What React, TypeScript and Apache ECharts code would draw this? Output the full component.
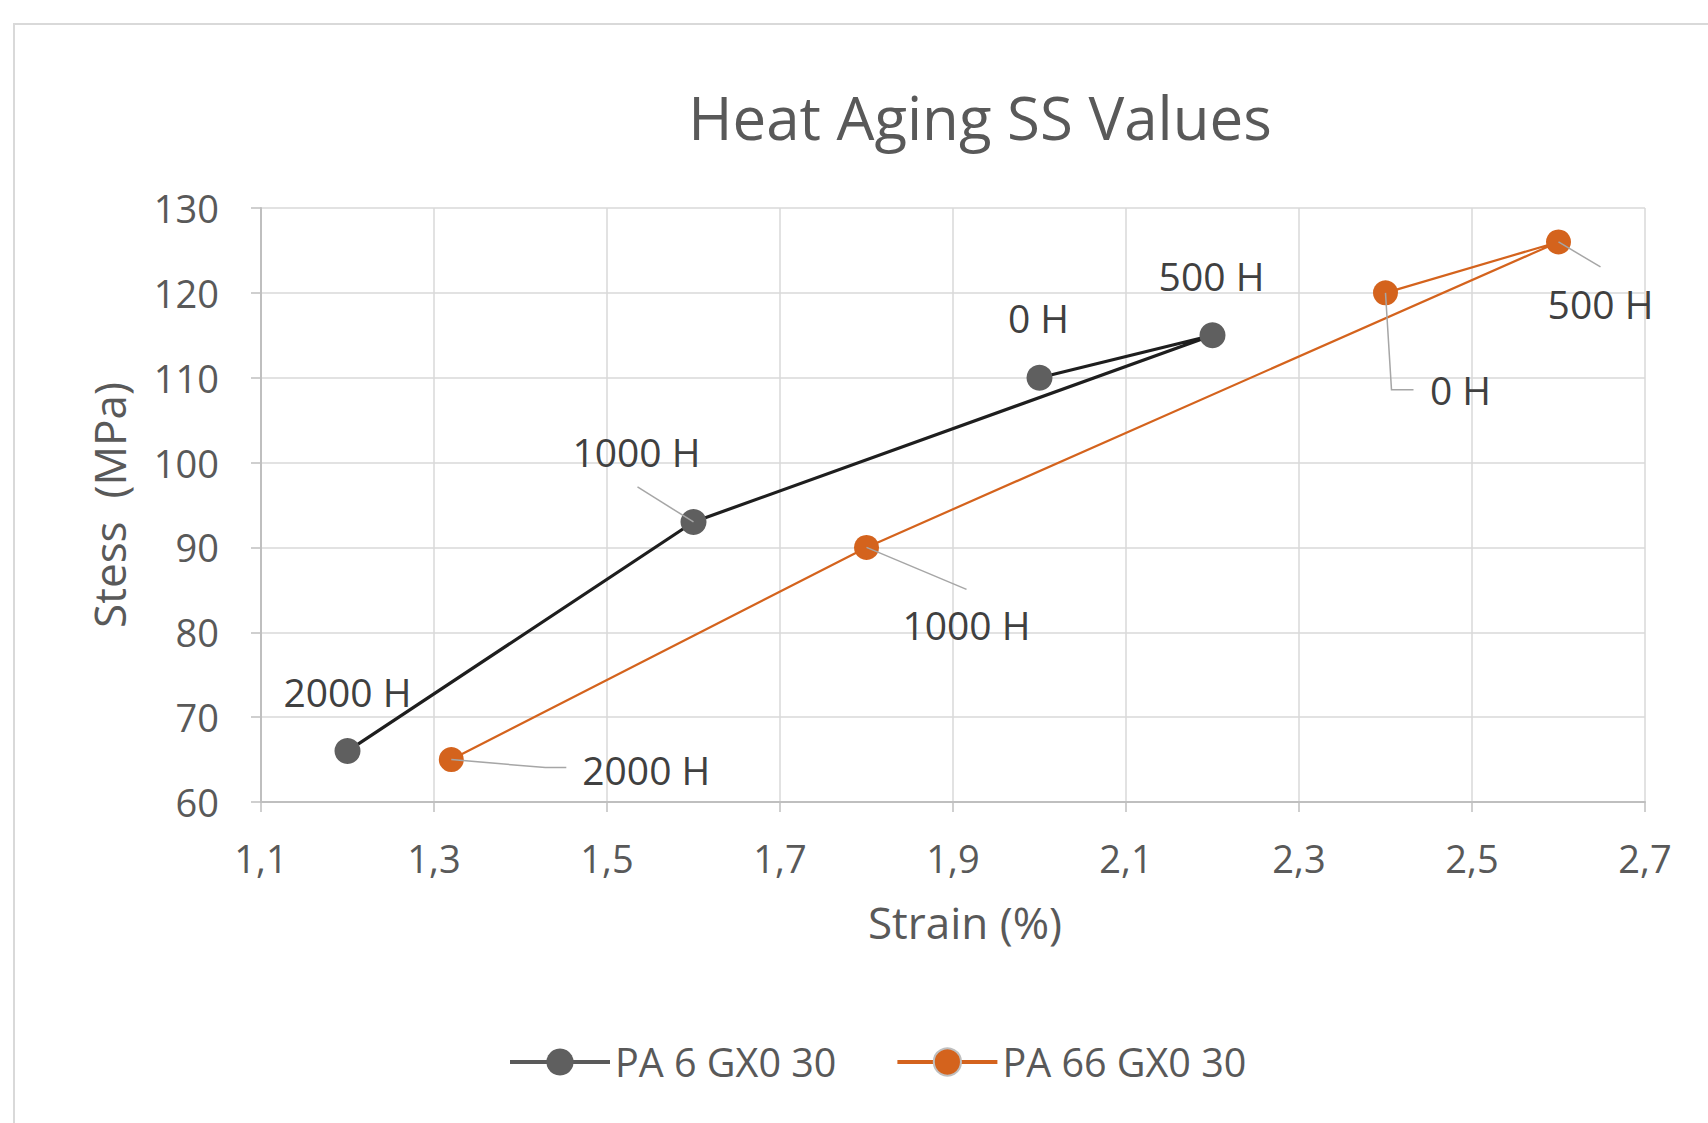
import React, { useEffect, useRef } from "react";
import * as echarts from "echarts";

// ---- data ----
const seriesNames = ["PA 6 GX0 30", "PA 66 GX0 30"];
const pa6Strain = [2.0, 2.2, 1.6, 1.2];
const pa6Stress = [110, 115, 93, 66];
const pa6Labels = ["0 H", "500 H", "1000 H", "2000 H"];
const pa66Strain = [2.4, 2.6, 1.8, 1.32];
const pa66Stress = [120, 126, 90, 65];
const pa66Labels = ["0 H", "500 H", "1000 H", "2000 H"];
const xTickLabels = ["1,1", "1,3", "1,5", "1,7", "1,9", "2,1", "2,3", "2,5", "2,7"];
const yTickLabels = ["60", "70", "80", "90", "100", "110", "120", "130"];
const titleText = "Heat Aging SS Values";
const xAxisTitle = "Strain (%)";
const yAxisTitle = "Stess  (MPa)";

// ---- label layout (pixel offsets from the point) ----
const pa6LabelOffsets = [[-1, -60], [-1, -60], [-57, -70], [0, -60]];
const pa6Leaders: (number[][] | null)[] = [null, null, [[0, 0], [-56, -35]], null];
const pa66LabelOffsets = [[75, 97], [42, 62], [100, 77], [195, 10]];
const pa66Leaders: (number[][] | null)[] = [
  [[0, 0], [6, 97], [28, 97]],
  [[0, 0], [42, 25]],
  [[0, 0], [100, 42]],
  [[0, 0], [94, 8], [115, 8]],
];

const FONT = "Open Sans";
const TEXT = "#595959";
const GRID = "#d9d9d9";
const ORANGE = "#d4631d";

function makeLabelSeries(
  name: string,
  xs: number[],
  ys: number[],
  labels: string[],
  offsets: number[][],
  leaders: (number[][] | null)[]
) {
  return {
    type: "custom",
    name,
    xAxisIndex: 0,
    yAxisIndex: 0,
    clip: false,
    silent: true,
    z: 5,
    data: xs.map((x, i) => [x, ys[i]]),
    encode: { x: 0, y: 1 },
    renderItem: (params: any, api: any) => {
      const i = params.dataIndex;
      const p = api.coord([api.value(0), api.value(1)]);
      const children: any[] = [];
      const leader = leaders[i];
      if (leader) {
        children.push({
          type: "polyline",
          shape: { points: leader.map(([dx, dy]) => [p[0] + dx, p[1] + dy]) },
          style: { stroke: "#a6a6a6", lineWidth: 1.5, fill: "none" },
        });
      }
      children.push({
        type: "text",
        x: p[0] + offsets[i][0],
        y: p[1] + offsets[i][1],
        style: {
          text: labels[i],
          fill: "#404040",
          fontSize: 39,
          fontFamily: FONT,
          align: "center",
          verticalAlign: "middle",
        },
      });
      return { type: "group", children };
    },
  };
}

export default function App() {
  const ref = useRef<HTMLDivElement>(null);

  useEffect(() => {
    document.body.style.margin = "0";
    if (!ref.current) return;
    const chart = echarts.init(ref.current, null, { renderer: "svg" });

    const option: any = {
      animation: false,
      backgroundColor: "#ffffff",
      textStyle: { fontFamily: FONT },
      grid: { left: 261, right: 63, top: 208, bottom: 321, containLabel: false },
      graphic: [
        {
          type: "rect",
          silent: true,
          z: -10,
          shape: { x: 14, y: 24, width: 1800, height: 1200 },
          style: { fill: "#ffffff", stroke: GRID, lineWidth: 2 },
        },
        {
          type: "text",
          x: 980,
          y: 117,
          silent: true,
          style: {
            text: titleText,
            fill: TEXT,
            fontSize: 60,
            fontFamily: FONT,
            align: "center",
            verticalAlign: "middle",
          },
        },
        {
          type: "text",
          x: 965,
          y: 922,
          silent: true,
          style: {
            text: xAxisTitle,
            fill: TEXT,
            fontSize: 44,
            fontFamily: FONT,
            align: "center",
            verticalAlign: "middle",
          },
        },
        {
          type: "text",
          x: 109,
          y: 505,
          rotation: Math.PI / 2,
          silent: true,
          style: {
            text: yAxisTitle,
            fill: TEXT,
            fontSize: 44,
            fontFamily: FONT,
            align: "center",
            verticalAlign: "middle",
          },
        },
      ],
      legend: {
        left: 508,
        top: 1042,
        padding: 0,
        itemWidth: 100,
        itemHeight: 34,
        itemGap: 59,
        textStyle: { fontSize: 39.5, color: TEXT, fontFamily: FONT },
        data: [
          { name: seriesNames[0], lineStyle: { color: "#5a5a5a", width: 4 } },
          {
            name: seriesNames[1],
            lineStyle: { width: 4 },
            itemStyle: { borderColor: "#bfbfbf", borderWidth: 2 },
          },
        ],
      },
      xAxis: [
        {
          type: "value",
          min: 1.1,
          max: 2.7,
          show: false,
        },
        {
          type: "value",
          min: 0,
          max: 1.6,
          interval: 0.2,
          position: "bottom",
          axisLine: { show: true, lineStyle: { color: "#bfbfbf", width: 2 } },
          axisTick: { show: true, length: 10, lineStyle: { color: "#bfbfbf", width: 1.5 } },
          splitLine: { show: true, lineStyle: { color: GRID, width: 1.5 } },
          axisLabel: {
            margin: 37,
            fontSize: 38,
            color: TEXT,
            fontFamily: FONT,
            formatter: (_v: number, i: number) => xTickLabels[i],
          },
        },
      ],
      yAxis: {
        type: "value",
        min: 60,
        max: 130,
        interval: 10,
        axisLine: { show: true, lineStyle: { color: "#bfbfbf", width: 2 } },
        axisTick: { show: true, length: 10, lineStyle: { color: "#bfbfbf", width: 1.5 } },
        splitLine: { show: true, lineStyle: { color: GRID, width: 1.5 } },
        axisLabel: {
          margin: 42,
          fontSize: 38,
          color: TEXT,
          fontFamily: FONT,
          formatter: (_v: number, i: number) => yTickLabels[i],
        },
      },
      series: [
        {
          type: "line",
          name: seriesNames[0],
          xAxisIndex: 0,
          data: pa6Strain.map((x, i) => [x, pa6Stress[i]]),
          symbol: "circle",
          symbolSize: 26,
          itemStyle: { color: "#5f5f5f" },
          lineStyle: { color: "#1e1e1e", width: 3.2 },
          z: 3,
        },
        {
          type: "line",
          name: seriesNames[1],
          xAxisIndex: 0,
          data: pa66Strain.map((x, i) => [x, pa66Stress[i]]),
          symbol: "circle",
          symbolSize: 25,
          itemStyle: { color: ORANGE },
          lineStyle: { color: ORANGE, width: 2.2 },
          z: 3,
        },
        makeLabelSeries("labels-pa6", pa6Strain, pa6Stress, pa6Labels, pa6LabelOffsets, pa6Leaders),
        makeLabelSeries("labels-pa66", pa66Strain, pa66Stress, pa66Labels, pa66LabelOffsets, pa66Leaders),
      ],
    };

    chart.setOption(option);
    return () => chart.dispose();
  }, []);

  return <div ref={ref} style={{ width: 1708, height: 1123 }} />;
}
